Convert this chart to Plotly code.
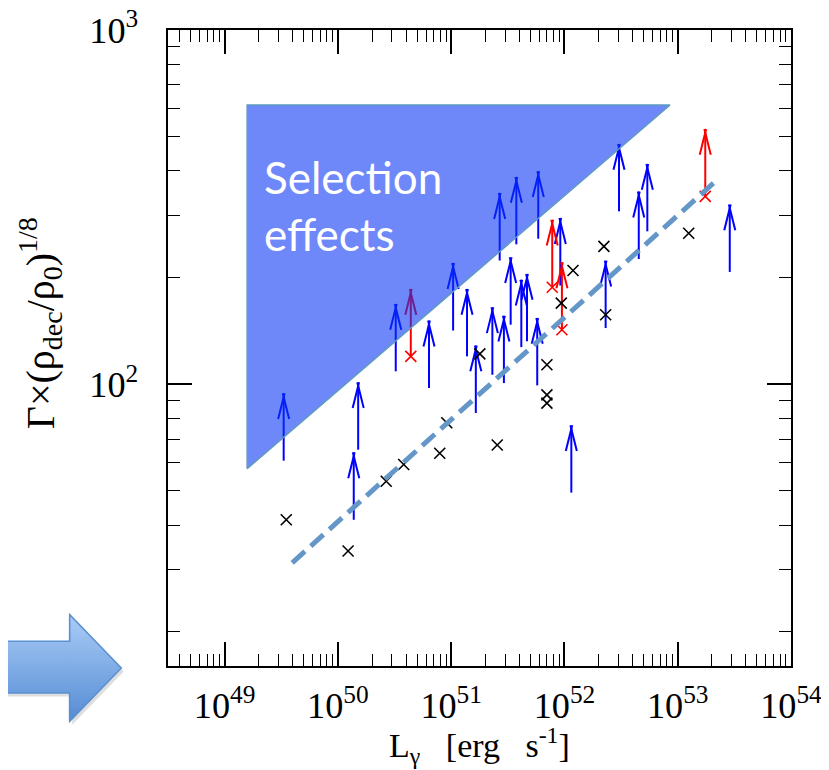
import math
import plotly.graph_objects as go

# ---------------- data ----------------
# measured values (black crosses)
MEAS_L = [3.5e49, 1.23e50, 2.67e50, 3.81e50, 7.93e50, 9.14e50, 1.79e51, 2.55e51,
          7.0e51, 7.0e51, 7.0e51, 9.38e51, 1.19e52, 2.23e52, 2.31e52, 1.25e53]
MEAS_G = [41.4, 33.8, 53.2, 59.3, 63.8, 77.8, 121.8, 67.3,
          113.4, 93.3, 88.4, 169.4, 209.4, 244.9, 157.0, 266.7]

# red crosses with lower-limit arrows
RED_L = [4.4e50, 7.8e51, 9.5e51, 1.75e53]
RED_G = [119.8, 187.8, 142.4, 339.0]

# blue lower limits (arrow bases)
LIM_L = [3.32e49, 1.38e50, 1.51e50, 3.24e50, 6.37e50, 1.04e51, 1.38e51, 1.65e51,
         2.31e51, 2.68e51, 2.92e51, 3.35e51, 3.76e51, 4.16e51, 4.67e51, 5.87e51,
         5.75e51, 9.19e51, 1.15e52, 2.31e52, 3.03e52, 4.53e52, 5.39e52, 2.88e53]
LIM_G = [60.8, 41.4, 65.3, 108.7, 97.5, 141.7, 119.8, 82.9,
         106.3, 223.4, 100.7, 147.2, 248.2, 127.2, 132.1, 257.4,
         99.2, 189.9, 49.4, 144.0, 307.6, 225.6, 270.1, 207.4]

# fitted relation (dashed line end points)
FIT_L = [3.95e49, 2.12e53]
FIT_G = [31.3, 372.0]

# selection-effects region (triangle)
SEL_L = [1.58e49, 1.58e49, 8.55e52, 1.58e49]
SEL_G = [57.7, 614.0, 614.0, 57.7]

# axis ranges
X_RANGE_EXP = [48.5, 54.0]
Y_RANGE = [16, 1000]

# ---------------- layout constants ----------------
W, H = 829, 770
ML, MR, MT, MB = 160, 46, 22, 112
PLOT_W = W - ML - MR
PLOT_H = H - MT - MB
PX_DEC_X = PLOT_W / (X_RANGE_EXP[1] - X_RANGE_EXP[0])
PX_DEC_Y = PLOT_H / (math.log10(Y_RANGE[1]) - math.log10(Y_RANGE[0]))

ARROW_DEC = 0.18      # visual length of the limit arrows (decades)
ARM_PX = 19           # arrow-head arm length (px)
ARM_DEG = 14          # arrow-head half angle


def stems(xs, ys):
    sx, sy = [], []
    for x, y in zip(xs, ys):
        sx += [x, x, None]
        sy += [y, y * 10 ** ARROW_DEC, None]
    return sx, sy


def add_limit_arrows(fig, xs, ys, color):
    sx, sy = stems(xs, ys)
    fig.add_trace(go.Scatter(x=sx, y=sy, mode="lines",
                             line=dict(color=color, width=2), hoverinfo="skip"))
    th = math.radians(ARM_DEG)
    dyc = (ARM_PX / 2) * math.cos(th) / PX_DEC_Y
    dxc = (ARM_PX / 2) * math.sin(th) / PX_DEC_X
    tips = [y * 10 ** ARROW_DEC for y in ys]
    for side, ang in ((-1, ARM_DEG), (1, -ARM_DEG)):
        fig.add_trace(go.Scatter(
            x=[x * 10 ** (side * dxc) for x in xs],
            y=[t * 10 ** (-dyc) for t in tips],
            mode="markers", hoverinfo="skip",
            marker=dict(symbol="line-ns", size=ARM_PX, angle=ang,
                        line=dict(color=color, width=2))))


fig = go.Figure()

add_limit_arrows(fig, LIM_L, LIM_G, "#0000FF")
add_limit_arrows(fig, RED_L, RED_G, "#FF0000")

fig.add_trace(go.Scatter(x=RED_L, y=RED_G, mode="markers",
                         marker=dict(symbol="x-thin", size=11,
                                     line=dict(color="#FF0000", width=1.6))))
fig.add_trace(go.Scatter(x=MEAS_L, y=MEAS_G, mode="markers",
                         marker=dict(symbol="x-thin", size=11,
                                     line=dict(color="#000000", width=1.6))))

fig.add_trace(go.Scatter(x=FIT_L, y=FIT_G, mode="lines",
                         line=dict(color="#6497C8", width=5, dash="17px,8px")))

# selection region (semi-transparent, drawn on top of the data)
fig.add_trace(go.Scatter(x=SEL_L, y=SEL_G, mode="lines", fill="toself",
                         fillcolor="rgba(8,52,245,0.59)",
                         line=dict(color="#5E9BBF", width=1.5), hoverinfo="skip"))

fig.add_annotation(x=49.33, y=2.505, xref="x", yref="y",
                   text="Selection<br>effects", showarrow=False,
                   xanchor="left", yanchor="middle", align="left",
                   font=dict(family="Lato", size=44, color="white"))

# axis titles
fig.add_annotation(x=0.5, y=-0.125, xref="paper", yref="paper",
                   text="L<sub>γ</sub>   [erg   s<sup>-1</sup>]", showarrow=False,
                   xanchor="center", yanchor="middle",
                   font=dict(family="Liberation Serif", size=34, color="black"))
fig.add_annotation(x=-0.2055, y=0.539, xref="paper", yref="paper",
                   text="Γ×(ρ<sub>dec</sub>/ρ<sub>0</sub>)<sup>1/8</sup>", showarrow=False,
                   textangle=-90, xanchor="center", yanchor="middle",
                   font=dict(family="Liberation Serif", size=40, color="black"))


# decorative block arrow on the left (pixel geometry -> paper fractions)
def px(X):
    return (X - ML) / PLOT_W


def py(Y):
    return (H - MB - Y) / PLOT_H


A_X0, A_XH, A_XT = -6, 61.7, 113.3
A_BT, A_BB = 633.3, 685.0
A_HT, A_HB, A_YT = 606.7, 713.3, 660.0
TOP_C = (170, 205, 247)
BOT_C = (86, 140, 212)


def head_right(Y):
    return A_XT - abs(Y - A_YT) / (A_YT - A_HT) * (A_XT - A_XH)


def outline_path(dx=0.0, dy=0.0):
    pts = [(A_X0, A_BT), (A_XH, A_BT), (A_XH, A_HT), (A_XT, A_YT),
           (A_XH, A_HB), (A_XH, A_BB), (A_X0, A_BB)]
    return "M " + " L ".join("%.5f,%.5f" % (px(x + dx), py(y + dy)) for x, y in pts) + " Z"


# soft shadow
fig.add_shape(type="path", xref="paper", yref="paper", path=outline_path(2.5, 3.5),
              fillcolor="rgba(0,0,0,0.13)", line=dict(width=0), layer="above")

NB = 30
levels = [A_HT + (A_HB - A_HT) * i / NB for i in range(NB + 1)]
for i in range(NB):
    ya, yb = levels[i], levels[i + 1]
    t = (0.5 * (ya + yb) - A_HT) / (A_HB - A_HT)
    c = tuple(int(TOP_C[k] + (BOT_C[k] - TOP_C[k]) * t) for k in range(3))
    col = "rgb(%d,%d,%d)" % c
    ya2, yb2 = ya, min(yb + 1.0, A_HB)
    pts = [(A_XH - 0.8, ya2), (head_right(ya2), ya2)]
    if ya2 < A_YT < yb2:
        pts.append((A_XT, A_YT))
    pts += [(head_right(yb2), yb2), (A_XH - 0.8, yb2)]
    path = "M " + " L ".join("%.5f,%.5f" % (px(x), py(y)) for x, y in pts) + " Z"
    fig.add_shape(type="path", xref="paper", yref="paper", path=path,
                  fillcolor=col, line=dict(width=0), layer="above")
    ba, bb = max(ya2, A_BT), min(yb2, A_BB)
    if ba < bb:
        path = "M %.5f,%.5f L %.5f,%.5f L %.5f,%.5f L %.5f,%.5f Z" % (
            px(A_X0), py(ba), px(A_XH), py(ba), px(A_XH), py(bb), px(A_X0), py(bb))
        fig.add_shape(type="path", xref="paper", yref="paper", path=path,
                      fillcolor=col, line=dict(width=0), layer="above")

fig.add_shape(type="path", xref="paper", yref="paper", path=outline_path(),
              fillcolor="rgba(0,0,0,0)", line=dict(color="#5B8FCF", width=1.5), layer="above")

axis_common = dict(
    type="log", showline=True, linecolor="black", linewidth=2, mirror="ticks",
    ticks="inside", ticklen=24, tickwidth=1.5, tickcolor="black",
    showgrid=False, zeroline=False, dtick=1, exponentformat="power",
    automargin=False, ticklabeloverflow="allow",
    minor=dict(ticks="inside", ticklen=12, tickwidth=1.2, tickcolor="black",
               dtick="D1", showgrid=False),
    tickfont=dict(family="Liberation Serif", size=29, color="black"),
)

fig.update_layout(
    width=W, height=H,
    margin=dict(l=ML, r=MR, t=MT, b=MB, autoexpand=False),
    paper_bgcolor="white", plot_bgcolor="white",
    showlegend=False,
    xaxis=dict(range=X_RANGE_EXP, ticklabelstandoff=8, **axis_common),
    yaxis=dict(range=[math.log10(Y_RANGE[0]), math.log10(Y_RANGE[1])],
               ticklabelstandoff=22, **axis_common),
)

fig.write_html("out.html")
